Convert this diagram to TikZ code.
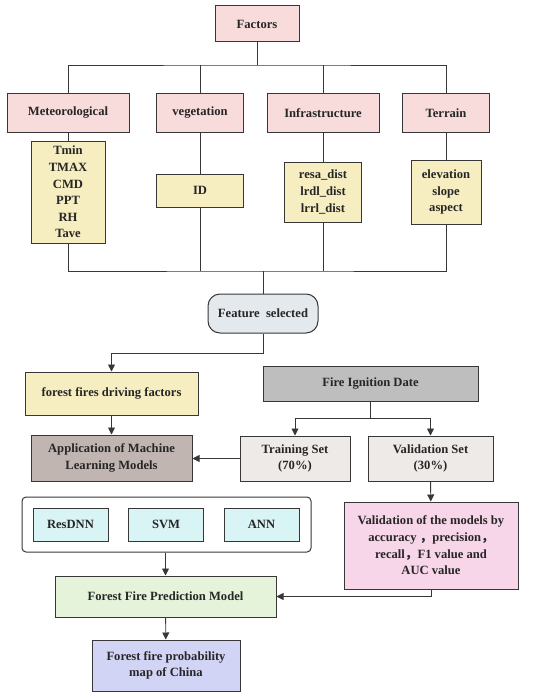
\documentclass[tikz,border=0pt]{standalone}
\usepackage{fontspec}
\setmainfont{Liberation Serif}
\newfontfamily\cjk{Noto Sans CJK SC}
\usetikzlibrary{positioning,arrows.meta,shapes.misc}

\definecolor{linec}{RGB}{55,55,55}
\definecolor{pinkc}{RGB}{248,219,219}
\definecolor{yelc}{RGB}{246,238,193}
\definecolor{featc}{RGB}{228,233,238}
\definecolor{grayc}{RGB}{190,190,190}
\definecolor{setc}{RGB}{238,234,232}
\definecolor{appc}{RGB}{192,181,177}
\definecolor{cyanc}{RGB}{216,244,244}
\definecolor{greenc}{RGB}{228,243,218}
\definecolor{valc}{RGB}{248,214,234}
\definecolor{lavc}{RGB}{210,212,245}

\begin{document}
\begin{tikzpicture}[x=1pt, y=-1pt, font=\fontsize{12.6}{16.6}\selectfont\bfseries,
  line width=0.9pt, draw=linec, text=black!85,
  box/.style={draw=linec, line width=1pt, align=center, inner sep=1pt},
  head/.style={box, fill=pinkc, minimum height=38pt},
  list/.style={box, fill=yelc},
  model/.style={box, fill=cyanc, minimum width=75pt, minimum height=33pt},
  arr/.style={-{Triangle[length=7pt,width=7pt]}}]
\useasboundingbox (0,0) rectangle (550,698);
% factor tree
\node[head, minimum width=84pt, minimum height=36pt] (fac) at (257,24) {Factors};
\node[head, minimum width=122pt] (met) at (68,113) {Meteorological};
\node[head, minimum width=87pt] (veg) at (200,113) {vegetation};
\node[head, minimum width=112pt] (inf) at (323,113) {Infrastructure};
\node[head, minimum width=87pt] (ter) at (446,113) {Terrain};
\node[list, minimum width=74pt, minimum height=102pt] (metl) at (68,192) {Tmin\\TMAX\\CMD\\PPT\\RH\\Tave};
\node[list, minimum width=87pt, minimum height=33pt] (idb) at (200,190.5) {ID};
\node[list, minimum width=77pt, minimum height=60pt] (infl) at (323,192) {resa\_dist\\lrdl\_dist\\lrrl\_dist};
\node[list, minimum width=70pt, minimum height=64pt] (terl) at (446,192) {elevation\\slope\\aspect};
\coordinate (bus) at (257,65);
\coordinate (low) at (263,271);
\draw (fac) -- (fac|-bus);
\draw (met.north) |- (bus) -| (ter.north);
\draw (veg.north) -- (veg.north|-bus);
\draw (inf.north) -- (inf.north|-bus);
\foreach \a/\b in {met/metl,veg/idb,inf/infl,ter/terl} \draw (\a) -- (\b);
\draw (metl.south) |- (low) -| (terl.south);
\draw (idb.south) -- (idb.south|-low);
\draw (infl.south) -- (infl.south|-low);
% selection and data
\node[box, fill=featc, rounded corners=12pt, minimum width=110pt, minimum height=39pt] (fs) at (263,313.5) {Feature\ \ selected};
\draw (low) -- (fs.north);
\node[list, minimum width=173pt, minimum height=43pt] (dri) at (111.5,393.5) {forest fires driving factors};
\node[box, fill=grayc, minimum width=215pt, minimum height=35pt] (fid) at (370.5,383.5) {Fire Ignition Date};
\node[box, fill=appc, minimum width=161pt, minimum height=46pt] (app) at (111.5,458) {Application of Machine\\Learning Models};
\node[box, fill=setc, minimum width=110pt, minimum height=45pt] (tra) at (295,458.5) {Training Set\\(70\%)};
\node[box, fill=setc, minimum width=125pt, minimum height=45pt] (val) at (430.5,458.5) {Validation Set\\(30\%)};
\draw[arr] (fs.south) -- ++(0,20) -| (dri.north);
\draw[arr] (dri) -- (app);
\draw[arr] (fid.south) -- ++(0,17) -| (tra.north);
\draw[arr] (fid.south) -- ++(0,17) -| (val.north);
\draw[arr] (tra.west) -- (app.east|-tra.west);
% models
\node[box, rounded corners=4pt, minimum width=289pt, minimum height=55pt] (grp) at (166.5,524.5) {};
\node[model] (res) at (70.5,524.5) {ResDNN};
\node[model] (svm) at (166,524.5) {SVM};
\node[model] (ann) at (261.5,524.5) {ANN};
\node[box, fill=greenc, minimum width=221pt, minimum height=41pt] (ffp) at (165.5,596.5) {Forest Fire Prediction Model};
\node[box, fill=valc, minimum width=174pt, minimum height=87pt] (vmb) at (431,545.5) {Validation of the models by\\accuracy {\cjk ，}precision{\cjk ，}\\recall{\cjk ，}F1 value and\\AUC value};
\node[box, fill=lavc, minimum width=148pt, minimum height=51pt] (map) at (166,665.5) {Forest fire probability\\map of China};
\draw[arr] (val) -- (vmb);
\draw[arr] (grp.south-|ffp) -- (ffp);
\draw[arr] (vmb.south) |- (ffp.east);
\draw[arr] (ffp) -- (map);
\end{tikzpicture}
\end{document}
